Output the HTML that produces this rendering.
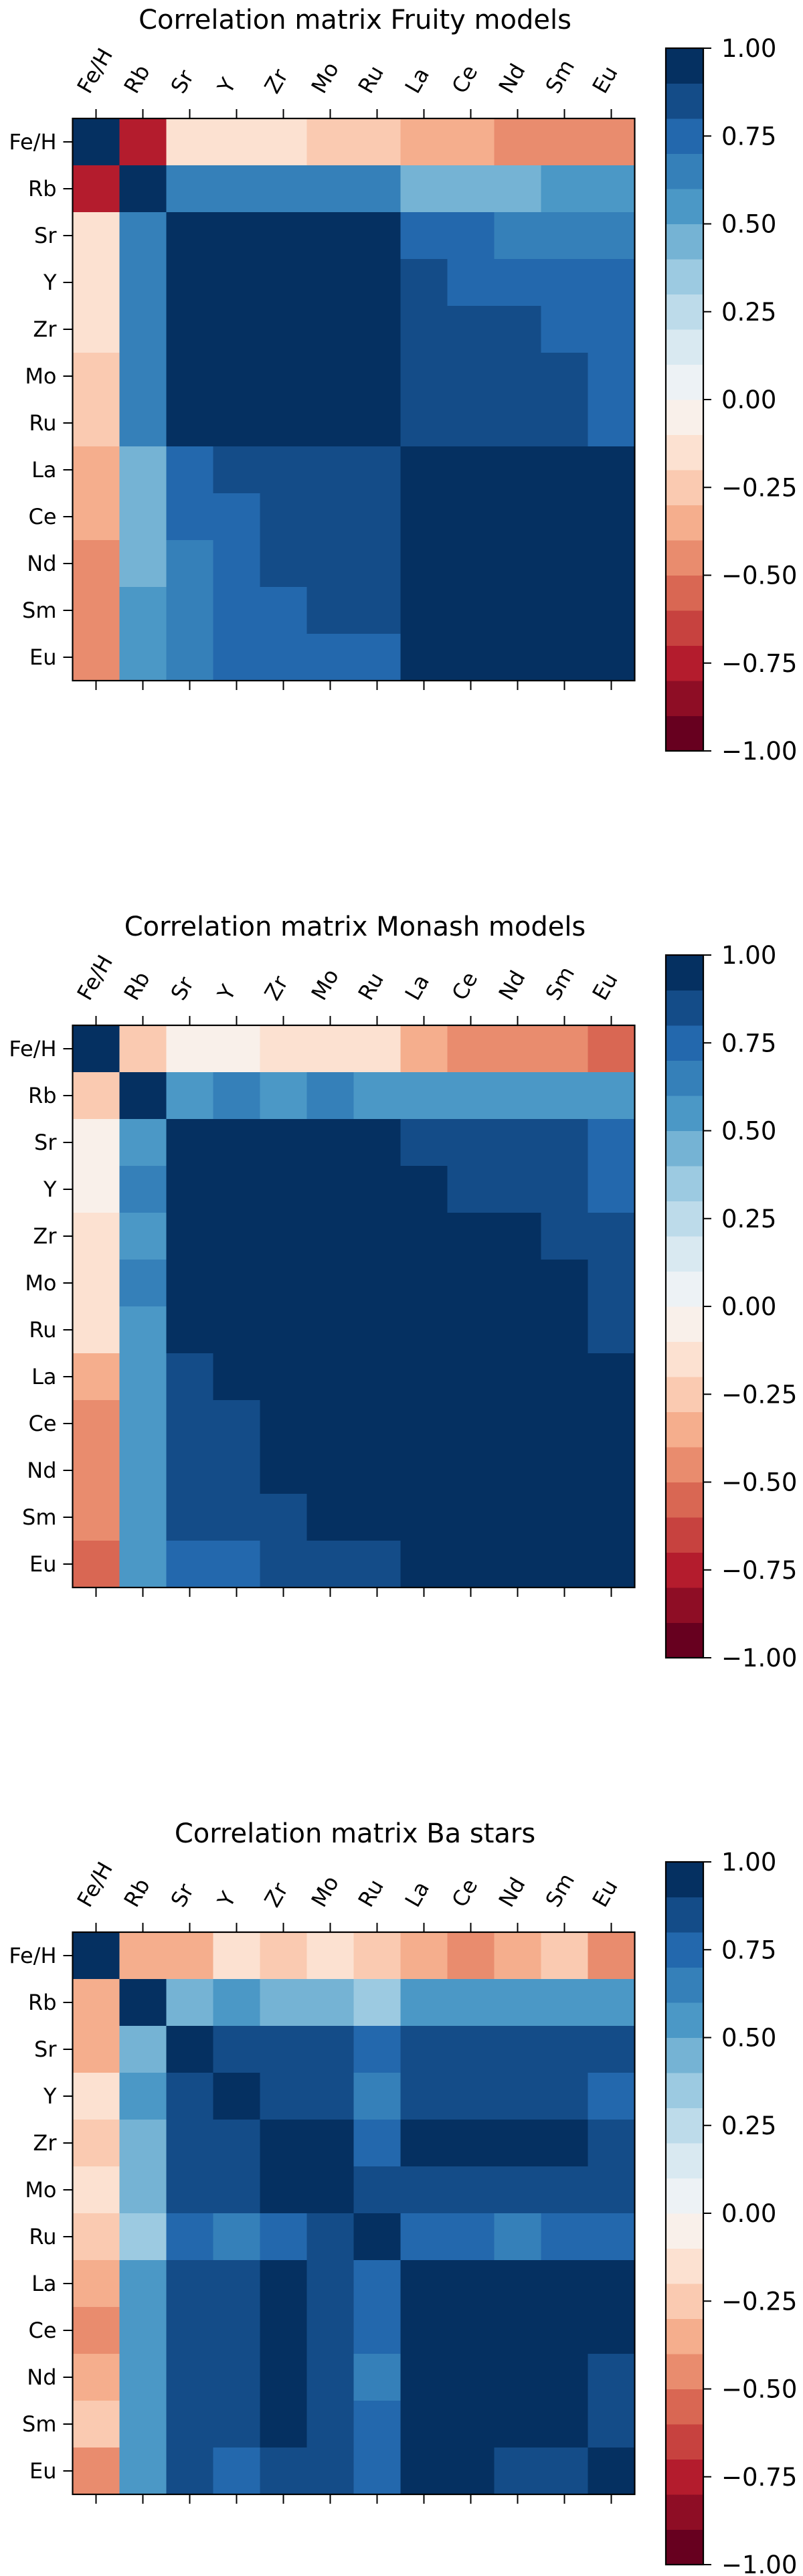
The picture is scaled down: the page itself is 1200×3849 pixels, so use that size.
<!DOCTYPE html>
<html><head><meta charset="utf-8"><style>
body{margin:0;background:#fff;}
svg{display:block;font-family:"DejaVu Sans","Liberation Sans",sans-serif;}
</style></head><body>
<svg id="fig" width="1200" height="3849" viewBox="0 0 1200 3849" xmlns="http://www.w3.org/2000/svg"></svg>
<script>
const labels = ["Fe/H","Rb","Sr","Y","Zr","Mo","Ru","La","Ce","Nd","Sm","Eu"];
const titles = ["Correlation matrix Fruity models","Correlation matrix Monash models","Correlation matrix Ba stars"];
const cbTicks = [1.00,0.75,0.50,0.25,0.00,-0.25,-0.50,-0.75,-1.00];
const fruity = [
[0.95,-0.75,-0.15,-0.15,-0.15,-0.25,-0.25,-0.35,-0.35,-0.45,-0.45,-0.45],
[-0.75,0.95,0.65,0.65,0.65,0.65,0.65,0.45,0.45,0.45,0.55,0.55],
[-0.15,0.65,0.95,0.95,0.95,0.95,0.95,0.75,0.75,0.65,0.65,0.65],
[-0.15,0.65,0.95,0.95,0.95,0.95,0.95,0.85,0.75,0.75,0.75,0.75],
[-0.15,0.65,0.95,0.95,0.95,0.95,0.95,0.85,0.85,0.85,0.75,0.75],
[-0.25,0.65,0.95,0.95,0.95,0.95,0.95,0.85,0.85,0.85,0.85,0.75],
[-0.25,0.65,0.95,0.95,0.95,0.95,0.95,0.85,0.85,0.85,0.85,0.75],
[-0.35,0.45,0.75,0.85,0.85,0.85,0.85,0.95,0.95,0.95,0.95,0.95],
[-0.35,0.45,0.75,0.75,0.85,0.85,0.85,0.95,0.95,0.95,0.95,0.95],
[-0.45,0.45,0.65,0.75,0.85,0.85,0.85,0.95,0.95,0.95,0.95,0.95],
[-0.45,0.55,0.65,0.75,0.75,0.85,0.85,0.95,0.95,0.95,0.95,0.95],
[-0.45,0.55,0.65,0.75,0.75,0.75,0.75,0.95,0.95,0.95,0.95,0.95]];
const monash = [
[0.95,-0.25,-0.05,-0.05,-0.15,-0.15,-0.15,-0.35,-0.45,-0.45,-0.45,-0.55],
[-0.25,0.95,0.55,0.65,0.55,0.65,0.55,0.55,0.55,0.55,0.55,0.55],
[-0.05,0.55,0.95,0.95,0.95,0.95,0.95,0.85,0.85,0.85,0.85,0.75],
[-0.05,0.65,0.95,0.95,0.95,0.95,0.95,0.95,0.85,0.85,0.85,0.75],
[-0.15,0.55,0.95,0.95,0.95,0.95,0.95,0.95,0.95,0.95,0.85,0.85],
[-0.15,0.65,0.95,0.95,0.95,0.95,0.95,0.95,0.95,0.95,0.95,0.85],
[-0.15,0.55,0.95,0.95,0.95,0.95,0.95,0.95,0.95,0.95,0.95,0.85],
[-0.35,0.55,0.85,0.95,0.95,0.95,0.95,0.95,0.95,0.95,0.95,0.95],
[-0.45,0.55,0.85,0.85,0.95,0.95,0.95,0.95,0.95,0.95,0.95,0.95],
[-0.45,0.55,0.85,0.85,0.95,0.95,0.95,0.95,0.95,0.95,0.95,0.95],
[-0.45,0.55,0.85,0.85,0.85,0.95,0.95,0.95,0.95,0.95,0.95,0.95],
[-0.55,0.55,0.75,0.75,0.85,0.85,0.85,0.95,0.95,0.95,0.95,0.95]];
const bastars = [
[0.95,-0.35,-0.35,-0.15,-0.25,-0.15,-0.25,-0.35,-0.45,-0.35,-0.25,-0.45],
[-0.35,0.95,0.45,0.55,0.45,0.45,0.35,0.55,0.55,0.55,0.55,0.55],
[-0.35,0.45,0.95,0.85,0.85,0.85,0.75,0.85,0.85,0.85,0.85,0.85],
[-0.15,0.55,0.85,0.95,0.85,0.85,0.65,0.85,0.85,0.85,0.85,0.75],
[-0.25,0.45,0.85,0.85,0.95,0.95,0.75,0.95,0.95,0.95,0.95,0.85],
[-0.15,0.45,0.85,0.85,0.95,0.95,0.85,0.85,0.85,0.85,0.85,0.85],
[-0.25,0.35,0.75,0.65,0.75,0.85,0.95,0.75,0.75,0.65,0.75,0.75],
[-0.35,0.55,0.85,0.85,0.95,0.85,0.75,0.95,0.95,0.95,0.95,0.95],
[-0.45,0.55,0.85,0.85,0.95,0.85,0.75,0.95,0.95,0.95,0.95,0.95],
[-0.35,0.55,0.85,0.85,0.95,0.85,0.65,0.95,0.95,0.95,0.95,0.85],
[-0.25,0.55,0.85,0.85,0.95,0.85,0.75,0.95,0.95,0.95,0.95,0.85],
[-0.45,0.55,0.85,0.75,0.85,0.85,0.75,0.95,0.95,0.85,0.85,0.95]];
const matrices = [fruity, monash, bastars];

const NS = "http://www.w3.org/2000/svg";
const svg = document.getElementById("fig");
const stops = ["#67001f","#b2182b","#d6604d","#f4a582","#fddbc7","#f7f7f7","#d1e5f0","#92c5de","#4393c3","#2166ac","#053061"];
function hex(h){return [1,3,5].map(i=>parseInt(h.substr(i,2),16));}
function cmap(v){
  let b = Math.min(19, Math.max(0, Math.floor((v+1)/0.1)));
  let t = b/19*10;
  let i = Math.min(9, Math.floor(t)), f = t-i;
  let a = hex(stops[i]), c = hex(stops[i+1]);
  return "rgb("+a.map((x,k)=>Math.round(x+(c[k]-x)*f)).join(",")+")";
}
function el(tag, attrs, parent){
  const e = document.createElementNS(NS, tag);
  for (const k in attrs) e.setAttribute(k, attrs[k]);
  (parent||svg).appendChild(e);
  return e;
}
const PL = 108.5, PW = 840, CB_L = 995, CB_W = 56, CB_H = 1050;
const tops = [177, 1532, 2887];
function xPos(i){return PL + i*PW/labels.length;}
function cbY(top, v){return top - 105 + (1 - v)/2*CB_H;}

matrices.forEach((m, ci) => {
  const top = tops[ci];
  const cw = PW/labels.length;
  const g = el("g", {});
  
  
  const tt = el("text", {x: PL+PW/2 + 2, y: top-134, "font-size": 40, "text-anchor": "middle", fill: "#000"}, g);
  tt.textContent = titles[ci];
  
  
  m.forEach((row, r) => row.forEach((v, c) => {
    const rc = el("rect", {x: xPos(c), y: top + r*cw, width: cw+0.5, height: cw+0.5, fill: cmap(v)}, g);
    
    
  }));
  const fr = el("rect", {x: PL, y: top, width: PW, height: PW, fill: "none", stroke: "#000", "stroke-width": 2.2}, g);
  
  
  labels.forEach((lab, i) => {
    const cx = xPos(i) + cw/2, cy = top + i*cw + cw/2;
    el("line", {x1: cx, y1: top-14, x2: cx, y2: top, stroke: "#000", "stroke-width": 2}, g);
    el("line", {x1: cx, y1: top+PW, x2: cx, y2: top+PW+14, stroke: "#000", "stroke-width": 2}, g);
    el("line", {x1: PL-14, y1: cy, x2: PL, y2: cy, stroke: "#000", "stroke-width": 2}, g);
    const xt = el("text", {x: cx-10, y: top-35, "font-size": 32, transform: "rotate(-60 "+(cx-10)+" "+(top-35)+")"}, g);
    xt.textContent = lab;
    
    
    const yt = el("text", {x: PL-24, y: cy+11, "font-size": 32, "text-anchor": "end"}, g);
    yt.textContent = lab;
    
    
  });
  for (let b = 0; b < 20; b++) {
    const lo = -1 + b*0.1, hi = lo + 0.1;
    const cr = el("rect", {x: CB_L, y: cbY(top, hi), width: CB_W, height: CB_H/20 + 0.5, fill: cmap(lo+0.05)}, g);
    
    
  }
  const cf = el("rect", {x: CB_L, y: cbY(top, 1), width: CB_W, height: CB_H, fill: "none", stroke: "#000", "stroke-width": 2.2}, g);
  
  
  cbTicks.forEach(v => {
    const y = cbY(top, v);
    el("line", {x1: CB_L+CB_W, y1: y, x2: CB_L+CB_W+12, y2: y, stroke: "#000", "stroke-width": 2}, g);
    const t = el("text", {x: 1078, y: y+13, "font-size": 37}, g);
    t.textContent = (v < 0 ? "\u2212" + Math.abs(v).toFixed(2) : v.toFixed(2));
    
    
  });
});
</script>
</body></html>
